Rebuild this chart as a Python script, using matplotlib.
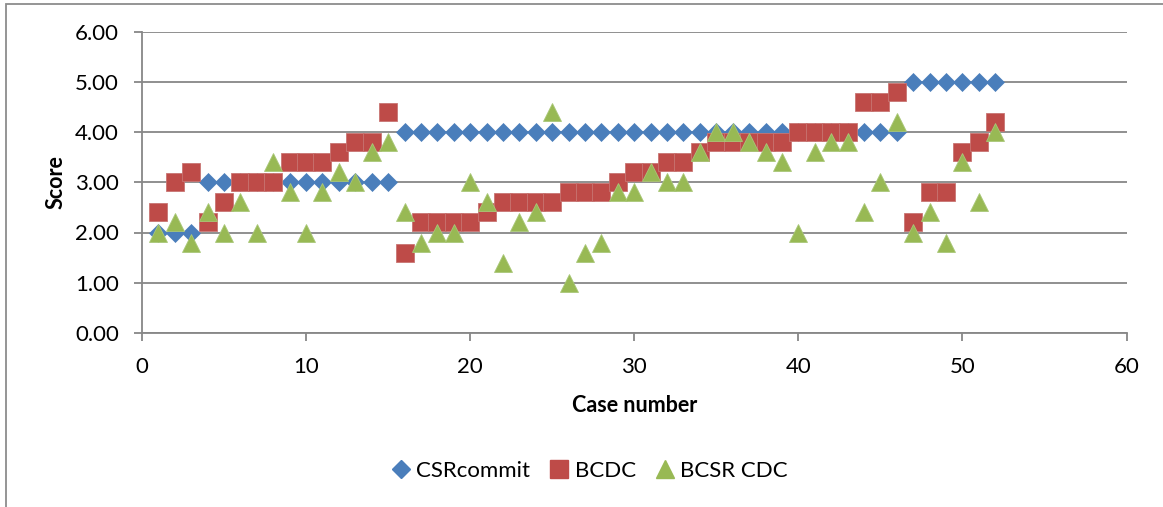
import matplotlib
matplotlib.use("Agg")
import matplotlib.pyplot as plt
from matplotlib.lines import Line2D
from matplotlib.patches import Rectangle

cases = list(range(1, 53))
csr_commit = [2, 2, 2] + [3] * 12 + [4] * 31 + [5] * 6
bcdc = [2.4, 3.0, 3.2, 2.2, 2.6, 3.0, 3.0, 3.0, 3.4, 3.4,
        3.4, 3.6, 3.8, 3.8, 4.4, 1.6, 2.2, 2.2, 2.2, 2.2,
        2.4, 2.6, 2.6, 2.6, 2.6, 2.8, 2.8, 2.8, 3.0, 3.2,
        3.2, 3.4, 3.4, 3.6, 3.8, 3.8, 3.8, 3.8, 3.8, 4.0,
        4.0, 4.0, 4.0, 4.6, 4.6, 4.8, 2.2, 2.8, 2.8, 3.6,
        3.8, 4.2]
bcsr_cdc = [2.0, 2.2, 1.8, 2.4, 2.0, 2.6, 2.0, 3.4, 2.8, 2.0,
            2.8, 3.2, 3.0, 3.6, 3.8, 2.4, 1.8, 2.0, 2.0, 3.0,
            2.6, 1.4, 2.2, 2.4, 4.4, 1.0, 1.6, 1.8, 2.8, 2.8,
            3.2, 3.0, 3.0, 3.6, 4.0, 4.0, 3.8, 3.6, 3.4, 2.0,
            3.6, 3.8, 3.8, 2.4, 3.0, 4.2, 2.0, 2.4, 1.8, 3.4,
            2.6, 4.0]
series_names = ["CSRcommit", "BCDC", "BCSR CDC"]
x_ticks = [0, 10, 20, 30, 40, 50, 60]
y_ticks = [0, 1, 2, 3, 4, 5, 6]

plt.rcParams['font.family'] = ['Lato', 'DejaVu Sans']

W, H = 1163, 507
fig = plt.figure(figsize=(W / 100, H / 100), dpi=100)
ax = fig.add_axes([142 / W, 1 - 333 / H, (1126.5 - 142) / W, (333 - 31.5) / H])

blue = "#4A7EBB"
red = "#BE4B48"
green = "#98B954"
grid_c = "#878787"

ax.plot(cases, csr_commit, linestyle="none", marker="D", ms=8.8, color=blue,
        mec=blue, mew=0.5, label=series_names[0], zorder=3)
ax.plot(cases, bcdc, linestyle="none", marker="s", ms=13.2, color=red,
        mec="#C87572", mew=0.6, label=series_names[1], zorder=4)
ax.plot(cases, bcsr_cdc, linestyle="none", marker="^", ms=13.6, color=green,
        mec="#A9C778", mew=0.6, label=series_names[2], zorder=5)

ax.set_xlim(0, 60)
ax.set_ylim(0, 6)
ax.set_xticks(x_ticks)
ax.set_yticks(y_ticks)
ax.set_yticklabels([f"{v:.2f}" for v in y_ticks])
ax.set_xticklabels([str(v) for v in x_ticks])

for s in ["top", "right"]:
    ax.spines[s].set_visible(False)
for s in ["left", "bottom"]:
    ax.spines[s].set_color(grid_c)
    ax.spines[s].set_linewidth(1.3)
ax.yaxis.grid(True, color=grid_c, linewidth=1.3)
ax.set_axisbelow(True)
ax.tick_params(axis="both", direction="out", length=5.5, width=1.3, color=grid_c,
               labelsize=16, labelcolor="black")
ax.tick_params(axis="y", pad=11)
ax.tick_params(axis="x", pad=12)

ax.set_xlabel("Case number", fontsize=15.5, fontweight="bold", labelpad=13)
ax.set_ylabel("Score", fontsize=15.5, fontweight="bold", labelpad=6)

handles = [
    Line2D([], [], linestyle="none", marker="D", ms=9, color=blue),
    Line2D([], [], linestyle="none", marker="s", ms=13, color=red),
    Line2D([], [], linestyle="none", marker="^", ms=13, color=green),
]
fig.legend(handles, series_names, loc="center", bbox_to_anchor=(590 / W, 1 - 471 / H),
           ncol=3, frameon=False, fontsize=16, handlelength=0.8, handletextpad=0.3,
           columnspacing=0.9)

# chart area border (left and top visible)
fig.patches.append(Rectangle((5.5 / W, -0.1), 1.2, (1 - 3.5 / H) + 0.1,
                             transform=fig.transFigure, fill=False,
                             edgecolor="#8C8C8C", linewidth=1.3))

fig.savefig("out.png", dpi=100)
